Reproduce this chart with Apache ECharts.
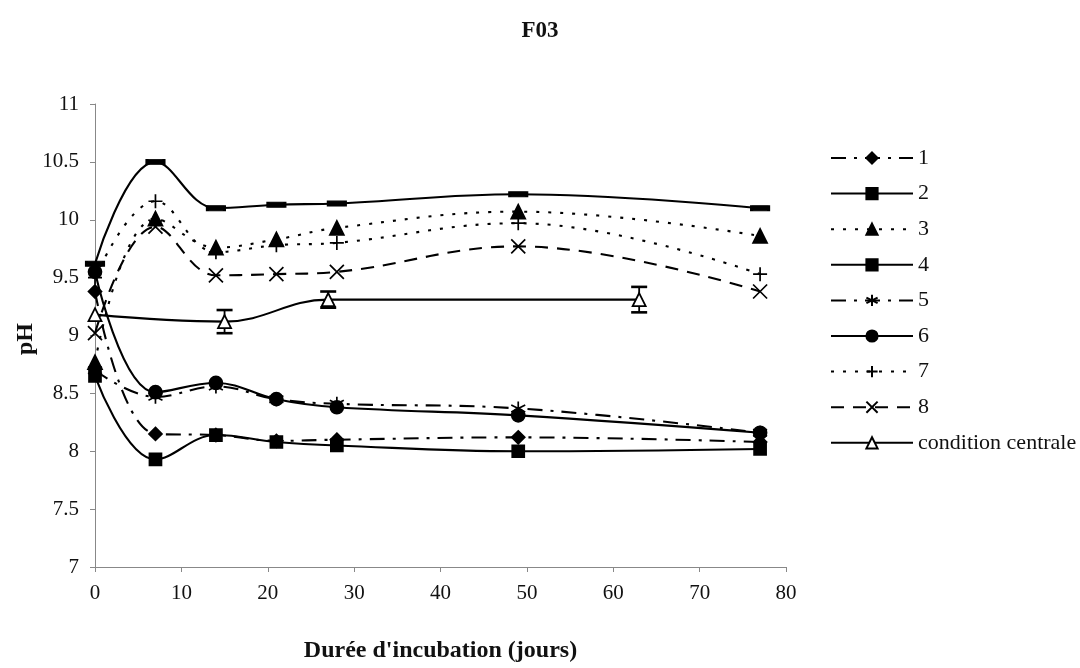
<!DOCTYPE html>
<html><head><meta charset="utf-8">
<script src="https://cdn.jsdelivr.net/npm/echarts@6/dist/echarts.min.js"></script>
<style>html,body{margin:0;padding:0;background:#fff}#c{width:1080px;height:668px}</style>
</head><body><div id="c"></div>
<script>
// ---- data ----
const days = [0, 7, 14, 21, 28, 49, 77];
const s1 = [9.38, 8.15, 8.14, 8.09, 8.10, 8.12, 8.08];
const s2 = [8.65, 7.93, 8.14, 8.08, 8.05, 8.00, 8.02];
const s3 = [8.77, 10.01, 9.76, 9.83, 9.93, 10.07, 9.86];
const s4 = [9.62, 10.50, 10.10, 10.13, 10.14, 10.22, 10.10];
const s5 = [8.70, 8.47, 8.56, 8.45, 8.41, 8.37, 8.16];
const s6 = [9.55, 8.51, 8.59, 8.45, 8.38, 8.31, 8.16];
const s7 = [9.50, 10.16, 9.72, 9.78, 9.80, 9.97, 9.53];
const s8 = [9.02, 9.94, 9.52, 9.53, 9.55, 9.77, 9.38];
const ccDays = [0, 15, 27, 63];
const ccVals = [9.18, 9.12, 9.31, 9.31];
const ccErr = [0, 0.10, 0.07, 0.11];
const seriesNames = ['1', '2', '3', '4', '5', '6', '7', '8', 'condition centrale'];
const titleText = 'F03';
const xName = "Durée d'incubation (jours)";
const yName = 'pH';

// ---- styles ----
const SERIF = '"Liberation Serif", "DejaVu Serif", serif';
const dashDot = [15, 8, 3, 8];
const dotted = [3, 9];
const dashed = [13, 9];
const styles = [
  {sym: 'diamond', size: 13, type: dashDot},
  {sym: 'rect', size: 12, type: 'solid'},
  {sym: 'triangle', size: 14, type: dotted},
  {sym: 'rect', size: [17, 5], type: 'solid'},
  {sym: 'path://M5,0 L5,10 M0.8,2.5 L9.2,7.5 M9.2,2.5 L0.8,7.5', size: 14, type: dashDot},
  {sym: 'circle', size: 13, type: 'solid'},
  {sym: 'path://M5,0 L5,10 M0,5 L10,5', size: 14, type: dotted},
  {sym: 'path://M0,0 L10,10 M10,0 L0,10', size: 14, type: dashed}
];
const allVals = [s1, s2, s3, s4, s5, s6, s7, s8];

const series = allVals.map((vals, i) => ({
  name: seriesNames[i],
  type: 'line',
  smooth: 0.4,
  data: days.map((d, j) => [d, vals[j]]),
  symbol: styles[i].sym,
  symbolSize: styles[i].size,
  lineStyle: {color: '#000', width: 2.1, type: styles[i].type},
  itemStyle: {color: '#000', borderColor: '#000', borderWidth: 1.7},
  z: 3
}));
series.push({
  name: seriesNames[8],
  type: 'line',
  smooth: 0.4,
  data: ccDays.map((d, j) => [d, ccVals[j]]),
  symbol: 'triangle',
  symbolSize: 13,
  lineStyle: {color: '#000', width: 2.1, type: 'solid'},
  itemStyle: {color: '#fff', borderColor: '#000', borderWidth: 1.8},
  z: 3
});
series.push({
  name: 'errbar',
  type: 'custom',
  data: ccDays.map((d, j) => [d, ccVals[j], ccErr[j]]),
  z: 2,
  renderItem: function (params, api) {
    const x = api.value(0), y = api.value(1), e = api.value(2);
    if (!e) return null;
    const hi = api.coord([x, y + e]);
    const lo = api.coord([x, y - e]);
    const w = 8;
    return {
      type: 'group',
      children: [
        {type: 'line', shape: {x1: hi[0], y1: hi[1], x2: lo[0], y2: lo[1]}, style: {stroke: '#000', lineWidth: 1.8}},
        {type: 'line', shape: {x1: hi[0] - w, y1: hi[1], x2: hi[0] + w, y2: hi[1]}, style: {stroke: '#000', lineWidth: 2.6}},
        {type: 'line', shape: {x1: lo[0] - w, y1: lo[1], x2: lo[0] + w, y2: lo[1]}, style: {stroke: '#000', lineWidth: 2.6}}
      ]
    };
  }
});

const chart = echarts.init(document.getElementById('c'), null, {renderer: 'canvas'});
chart.setOption({
  animation: false,
  backgroundColor: '#fff',
  title: {
    text: titleText, left: 'center', top: 15,
    textStyle: {fontFamily: SERIF, fontWeight: 'bold', fontSize: 23, color: '#111'}
  },
  grid: {left: 95, top: 104, width: 691, height: 470},
  legend: {
    data: seriesNames,
    orient: 'vertical',
    left: 825, top: 142,
    itemWidth: 82, itemHeight: 14, itemGap: 13.6,
    textStyle: {fontFamily: SERIF, fontSize: 22, color: '#111', lineHeight: 22}
  },
  xAxis: {
    type: 'value', min: 0, max: 80, interval: 10,
    name: xName, nameLocation: 'middle', nameGap: 72,
    nameTextStyle: {fontFamily: SERIF, fontWeight: 'bold', fontSize: 24, color: '#111'},
    axisLine: {lineStyle: {color: '#888', width: 1}},
    axisTick: {show: true, length: 5, lineStyle: {color: '#888'}},
    axisLabel: {fontFamily: SERIF, fontSize: 21, color: '#111', margin: 16},
    splitLine: {show: false}
  },
  yAxis: {
    type: 'value', min: 7, max: 11, interval: 0.5,
    axisLine: {show: true, lineStyle: {color: '#888', width: 1}},
    axisTick: {show: true, length: 5, lineStyle: {color: '#888'}},
    axisLabel: {fontFamily: SERIF, fontSize: 21, color: '#111', margin: 16},
    splitLine: {show: false}
  },
  graphic: [{
    type: 'text', x: 26, y: 339, rotation: Math.PI / 2,
    style: {text: yName, font: 'bold 24px ' + SERIF, fill: '#111', align: 'center', verticalAlign: 'middle'}
  }],
  series: series
});
</script>
</body></html>
